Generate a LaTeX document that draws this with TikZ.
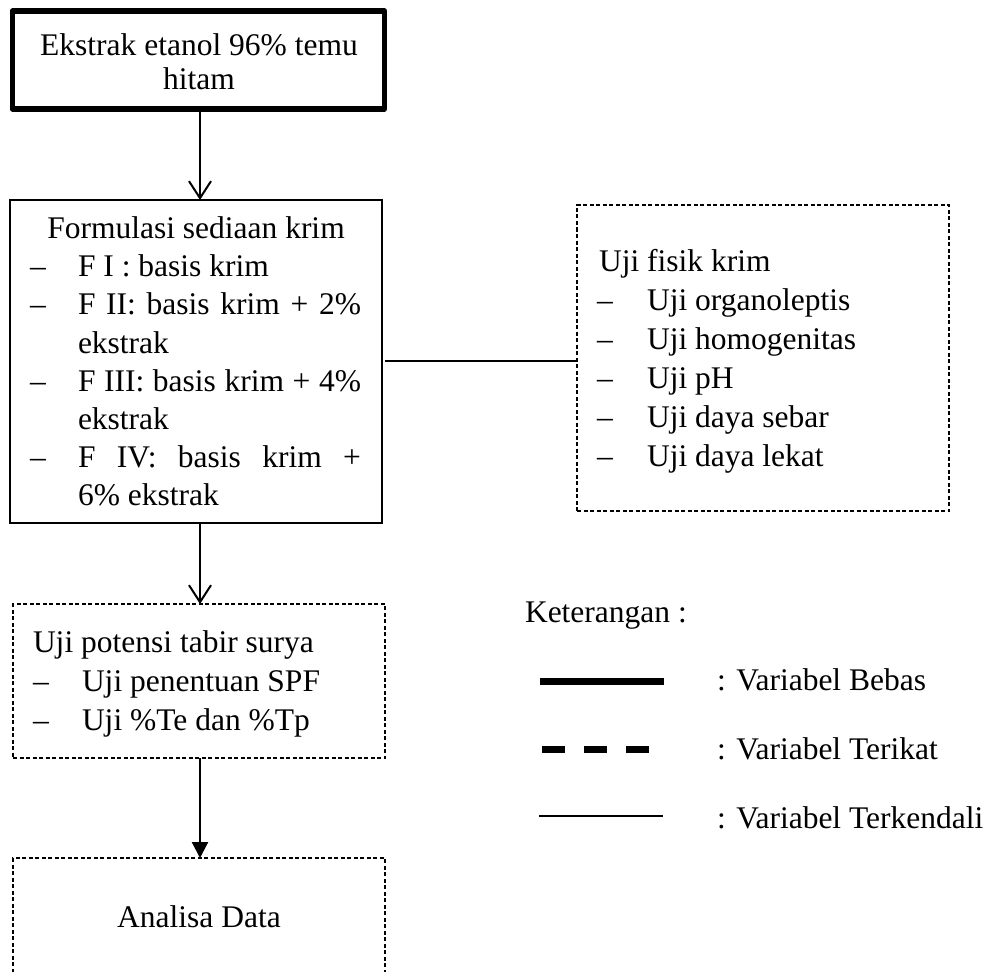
\documentclass[tikz,border=0pt]{standalone}
\usepackage{fontspec}
\setmainfont{Liberation Serif}
\usetikzlibrary{arrows.meta}
\begin{document}
\begin{tikzpicture}[x=1pt,y=-1pt,
  txt/.style={inner sep=0pt, outer sep=0pt, font=\fontsize{31.5}{38}\selectfont},
  lt/.style={txt, anchor=base west},
  ct/.style={txt, anchor=base},
  boxbase/.style={draw, anchor=north west, inner sep=0pt, outer sep=0pt},
  boldbox/.style={boxbase, line width=5.5pt, line join=round},
  solidbox/.style={boxbase, line width=1.3pt},
  dashbox/.style={boxbase, line width=1.2pt, dash pattern=on 4pt off 2.5pt},
  openarr/.style={line width=2pt, -{Straight Barb[length=17pt,width=22pt,line width=2pt]}},
  fillarr/.style={line width=2.3pt, -{Triangle[length=16pt,width=16pt]}},
  link/.style={line width=1.3pt},
  legbold/.style={line width=7pt},
  legdash/.style={line width=7pt, dash pattern=on 23.3pt off 18.7pt},
  legthin/.style={line width=1.5pt}
]
\useasboundingbox (0,0) rectangle (995,971);

% boxes
\node[boldbox, minimum width=372pt, minimum height=98pt] (ekstrak) at (12.5,11) {};
\node[solidbox, minimum width=372pt, minimum height=323pt] (form) at (10,200) {};
\node[dashbox, minimum width=372pt, minimum height=306pt] (fisik) at (577,205) {};
\node[dashbox, minimum width=372pt, minimum height=154pt] (potensi) at (13,604) {};
\node[dashbox, minimum width=372pt, minimum height=140pt] (analisa) at (13,858) {};

% box 1 text
\node[ct] (e1) at (199,56) {Ekstrak etanol 96\% temu};
\node[ct] (e2) at (199,90) {hitam};

% box 2 text
\node[ct] (f0) at (196,238.5) {Formulasi sediaan krim};
\node[lt] (fd1) at (30,276.7) {–};
\node[lt] (f1) at (78,276.7) {F I : basis krim};
\node[lt] (fd2) at (30,314.9) {–};
\node[lt] (f2) at (78,314.9) {\makebox[283pt][s]{F II: basis krim + 2\%}};
\node[lt] (f2b) at (78,353.1) {ekstrak};
\node[lt] (fd3) at (30,391.3) {–};
\node[lt] (f3) at (78,391.3) {\makebox[283pt][s]{F III: basis krim + 4\%}};
\node[lt] (f3b) at (78,429.5) {ekstrak};
\node[lt] (fd4) at (30,467.7) {–};
\node[lt] (f4) at (78,467.7) {\makebox[283pt][s]{F IV: basis krim +}};
\node[lt] (f4b) at (78,505.9) {6\% ekstrak};

% box fisik text
\node[lt] (u0) at (599,271) {Uji fisik krim};
\node[lt] (ud1) at (597,310) {–};
\node[lt] (u1) at (647,310) {Uji organoleptis};
\node[lt] (ud2) at (597,349) {–};
\node[lt] (u2) at (647,349) {Uji homogenitas};
\node[lt] (ud3) at (597,388) {–};
\node[lt] (u3) at (647,388) {Uji pH};
\node[lt] (ud4) at (597,427) {–};
\node[lt] (u4) at (647,427) {Uji daya sebar};
\node[lt] (ud5) at (597,466) {–};
\node[lt] (u5) at (647,466) {Uji daya lekat};

% box potensi text
\node[lt] (p0) at (33,652.5) {Uji potensi tabir surya};
\node[lt] (pd1) at (33,691.5) {–};
\node[lt] (p1) at (82,691.5) {Uji penentuan SPF};
\node[lt] (pd2) at (33,730.5) {–};
\node[lt] (p2) at (82,730.5) {Uji \%Te dan \%Tp};

% analisa text
\node[ct] (a0) at (199,927) {Analisa Data};

% connectors
\draw[openarr] (ekstrak.south -| 200,0) -- (form.north -| 200,0);
\draw[openarr] (form.south -| 200,0) -- (potensi.north -| 200,0);
\draw[fillarr] (potensi.south -| 200,0) -- (analisa.north -| 200,0);
\coordinate (lk) at (385,361);
\draw[link] (lk) -- (lk -| fisik.west);

% legend
\node[lt] (ket) at (525,622) {Keterangan :};
\coordinate (lb1) at (540,681);
\coordinate (lb2) at (664,681);
\coordinate (ld1) at (542,749.5);
\coordinate (ld2) at (650,749.5);
\coordinate (lt1) at (539,816);
\coordinate (lt2) at (663,816);
\draw[legbold] (lb1) -- (lb2);
\draw[legdash] (ld1) -- (ld2);
\draw[legthin] (lt1) -- (lt2);
\node[lt] (k1) at (717,690.5) {: Variabel Bebas};
\node[lt] (k2) at (717,759.5) {: Variabel Terikat};
\node[lt] (k3) at (717,828) {: Variabel Terkendali};
\end{tikzpicture}
\end{document}
